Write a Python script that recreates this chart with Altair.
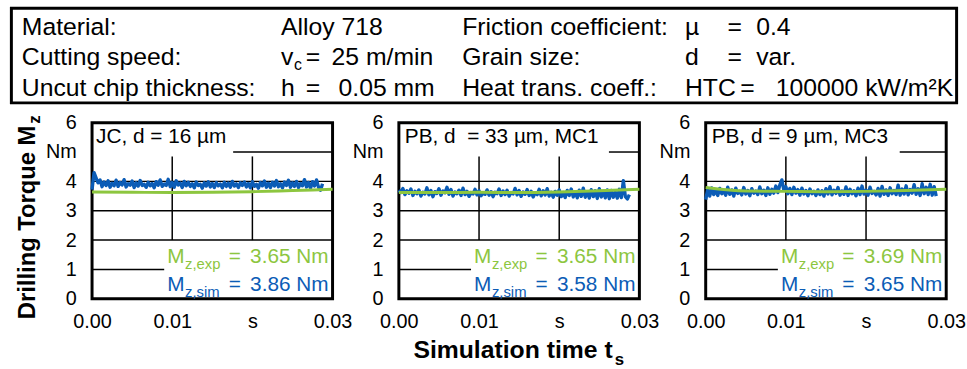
import altair as alt
import pandas as pd

# ---------------- data ----------------
T_STEP = 0.00025  # sampling interval of the simulated torque signal [s]

sim_jc16 = [
    3.72, 4.30, 4.12, 3.95, 4.05, 3.82, 3.98, 3.86, 4.02, 3.80,
    3.94, 3.85, 4.04, 3.83, 3.96, 3.88, 4.06, 3.81, 3.92, 3.87,
    4.01, 3.79, 3.95, 3.84, 4.03, 3.86, 3.90, 3.80, 3.97, 3.85,
    3.93, 3.78, 3.99, 3.87, 4.05, 3.83, 3.91, 3.86, 4.07, 3.82,
    3.96, 3.80, 4.02, 3.88, 3.94, 3.79, 4.00, 3.85, 3.97, 3.83,
    3.92, 3.78, 3.98, 3.86, 3.90, 3.77, 3.95, 3.84, 3.99, 3.81,
    3.93, 3.79, 3.96, 3.85, 3.91, 3.78, 3.97, 3.83, 3.94, 3.80,
    4.00, 3.84, 3.92, 3.79, 3.95, 3.86, 3.98, 3.81, 3.93, 3.78,
    3.99, 3.83, 3.90, 3.77, 3.96, 3.85, 4.01, 3.80, 3.94, 3.79,
    3.97, 3.84, 4.03, 3.82, 3.92, 3.78, 3.98, 3.86, 4.04, 3.80,
    3.95, 3.83, 4.00, 3.79, 3.93, 3.85, 4.06, 3.81, 3.96, 3.77,
    3.99, 3.84, 4.05, 3.80, 3.70, 3.92,
]
sim_pb33 = [
    3.70, 3.62, 3.76, 3.55, 3.68, 3.60, 3.74, 3.52, 3.66, 3.58,
    3.71, 3.50, 3.63, 3.57, 3.78, 3.54, 3.69, 3.48, 3.65, 3.59,
    3.75, 3.53, 3.67, 3.61, 3.80, 3.56, 3.72, 3.50, 3.64, 3.58,
    3.70, 3.52, 3.77, 3.55, 3.66, 3.49, 3.62, 3.57, 3.73, 3.54,
    3.68, 3.51, 3.60, 3.56, 3.71, 3.53, 3.65, 3.48, 3.63, 3.58,
    3.74, 3.52, 3.67, 3.55, 3.70, 3.50, 3.62, 3.57, 3.76, 3.54,
    3.69, 3.49, 3.64, 3.56, 3.72, 3.52, 3.66, 3.47, 3.61, 3.55,
    3.73, 3.51, 3.68, 3.54, 3.75, 3.50, 3.63, 3.46, 3.66, 3.53,
    3.71, 3.48, 3.62, 3.45, 3.69, 3.52, 3.74, 3.47, 3.64, 3.44,
    3.70, 3.49, 3.77, 3.46, 3.65, 3.43, 3.72, 3.48, 3.68, 3.42,
    3.75, 3.47, 3.66, 3.44, 3.71, 3.41, 3.69, 3.46, 3.64, 3.43,
    3.73, 3.45, 4.02, 3.48, 3.40, 3.55,
]
sim_pb9 = [
    3.38, 3.72, 3.50, 3.78, 3.55, 3.70, 3.52, 3.76, 3.58, 3.68,
    3.53, 3.80, 3.56, 3.71, 3.50, 3.77, 3.59, 3.66, 3.54, 3.79,
    3.57, 3.69, 3.51, 3.75, 3.60, 3.67, 3.55, 3.81, 3.58, 3.70,
    3.52, 3.78, 3.56, 3.73, 3.60, 3.84, 3.62, 3.88, 4.05, 3.70,
    3.82, 3.58, 3.76, 3.55, 3.80, 3.60, 3.72, 3.53, 3.77, 3.57,
    3.69, 3.51, 3.74, 3.58, 3.66, 3.52, 3.71, 3.55, 3.68, 3.50,
    3.75, 3.57, 3.82, 3.54, 3.70, 3.59, 3.79, 3.53, 3.67, 3.56,
    3.81, 3.52, 3.73, 3.58, 3.68, 3.51, 3.77, 3.55, 3.84, 3.57,
    3.70, 3.53, 3.80, 3.59, 3.66, 3.54, 3.76, 3.50, 3.83, 3.56,
    3.71, 3.52, 3.78, 3.58, 3.69, 3.55, 3.87, 3.53, 3.74, 3.57,
    3.85, 3.54, 3.72, 3.60, 3.89, 3.56, 3.75, 3.52, 3.92, 3.58,
    3.80, 3.55, 3.90, 3.53, 3.82, 3.50,
]
exp_t = [0.0, 0.005, 0.01, 0.015, 0.02, 0.025, 0.03]
exp_jc16 = [3.64, 3.63, 3.62, 3.63, 3.65, 3.69, 3.73]
exp_pb33 = [3.62, 3.62, 3.63, 3.62, 3.64, 3.68, 3.73]
exp_pb9 = [3.79, 3.67, 3.66, 3.65, 3.66, 3.69, 3.73]

panel_labels = ["JC, d = 16 µm", "PB, d\u00a0\u00a0= 33 µm, MC1", "PB, d = 9 µm, MC3"]
exp_means = ["3.65 Nm", "3.65 Nm", "3.69 Nm"]
sim_means = ["3.86 Nm", "3.58 Nm", "3.65 Nm"]
y5_grid_start = [0.0176, 0.0262, 0.0242]

x_ticks = [0.0, 0.01, 0.02, 0.03]
y_ticks = [0, 1, 2, 3, 4, 5, 6]

header_names = ["Material:", "Cutting speed:", "Uncut chip thickness:"]
header_names2 = ["Friction coefficient:", "Grain size:", "Heat trans. coeff.:"]
header_syms2 = ["µ", "d", "HTC"]
header_vals2 = ["0.4", "var.", "100000 kW/m²K"]

# ---------------- style ----------------
FONT = "Liberation Sans"
BLUE = "#0B5CB6"
GREEN = "#8DC63F"
W, H = 243, 178
OX, OY = 91, 120  # absolute origin of first panel (for header placement)
HF = 25  # header font size
ONE = pd.DataFrame({"k": [0]})


def txt(s, x, y, size=21, color="black", weight="normal", align="left", angle=0):
    kw = dict(text=s, font=FONT, fontSize=size, color=color, fontWeight=weight,
              align=align, baseline="alphabetic")
    if angle:
        kw["angle"] = angle
    return alt.Chart(ONE).mark_text(**kw).encode(x=alt.value(x), y=alt.value(y))


def panel(i, sim, exp):
    xs = alt.Scale(domain=[0, 0.03], nice=False, zero=False)
    ys = alt.Scale(domain=[0, 6], nice=False, zero=False)
    xax = alt.Axis(values=x_ticks, grid=False, domain=False, ticks=False, tickSize=0,
                   labelExpr="datum.value == 0.02 ? 's' : format(datum.value, '.2f')",
                   labelPadding=13, labelFontSize=20, labelFont=FONT, labelColor="black",
                   labelFlush=False, labelOverlap=False, title=None)
    yax = alt.Axis(values=y_ticks, grid=False, domain=False, ticks=False, tickSize=0,
                   labelExpr="datum.value == 5 ? 'Nm' : datum.label",
                   labelPadding=16, labelFontSize=20, labelFont=FONT, labelColor="black",
                   labelOverlap=False, title=None)

    grid = pd.DataFrame({
        "x": [0, 0, 0, y5_grid_start[i], 0, 0.01, 0.02],
        "x2": [0.03, 0.03, 0.03, 0.03, 0.009, 0.01, 0.02],
        "y": [2, 3, 4, 5, 1, 2, 2],
        "y2": [2, 3, 4, 5, 1, 4.85, 4.85],
    })
    sim_df = pd.DataFrame({"t": [k * T_STEP for k in range(len(sim))], "v": sim})
    exp_df = pd.DataFrame({"t": exp_t, "v": exp})

    rules = alt.Chart(grid).mark_rule(color="black", strokeWidth=1.5).encode(
        x=alt.X("x:Q", scale=xs, axis=xax), x2="x2:Q",
        y=alt.Y("y:Q", scale=ys, axis=yax), y2="y2:Q")
    blue = alt.Chart(sim_df).mark_line(color=BLUE, strokeWidth=3.4, strokeJoin="round").encode(
        x=alt.X("t:Q", scale=xs, axis=xax), y=alt.Y("v:Q", scale=ys, axis=yax))
    green = alt.Chart(exp_df).mark_line(color=GREEN, strokeWidth=3, interpolate="monotone").encode(
        x=alt.X("t:Q", scale=xs, axis=xax), y=alt.Y("v:Q", scale=ys, axis=yax))

    layers = [rules, blue, green,
              txt(panel_labels[i], 4 if i == 0 else 6, 21, size=21),
              txt("M", 76, 142, size=21, color=GREEN),
              txt("z,exp", 94, 148, size=15, color=GREEN),
              txt("=", 138, 142, size=21, color=GREEN),
              txt(exp_means[i], W - 4, 142, size=21, color=GREEN, align="right"),
              txt("M", 76, 170, size=21, color=BLUE),
              txt("z,sim", 94, 176, size=15, color=BLUE),
              txt("=", 138, 170, size=21, color=BLUE),
              txt(sim_means[i], W - 4, 170, size=21, color=BLUE, align="right")]

    if i == 0:
        # y-axis title (rotated, with subscript)
        layers += [txt("Drilling Torque M", -58, 3, size=24, weight="bold", align="right", angle=270),
                   txt("z", -53, 1, size=17, weight="bold", align="left", angle=270)]
        # header table
        layers.append(alt.Chart(ONE).mark_rect(fillOpacity=0, stroke="black", strokeWidth=3).encode(
            x=alt.value(9.5 - OX), x2=alt.value(964.5 - OX),
            y=alt.value(4.5 - OY), y2=alt.value(100 - OY)))
        rows = [31, 62, 93]
        for r, name in enumerate(header_names):
            layers.append(txt(name, 20 - OX, rows[r] - OY, size=HF))
        for r, name in enumerate(header_names2):
            layers.append(txt(name, 465 - OX, rows[r] - OY, size=HF))
        for r, s in enumerate(header_syms2):
            layers.append(txt(s, 690 - OX, rows[r] - OY, size=HF))
        layers += [
            txt("Alloy 718", 282 - OX, rows[0] - OY, size=HF),
            txt("v", 282 - OX, rows[1] - OY, size=HF),
            txt("c", 295 - OX, rows[1] + 5 - OY, size=16),
            txt("=", 307 - OX, rows[1] - OY, size=HF),
            txt("25 m/min", 333 - OX, rows[1] - OY, size=HF),
            txt("h", 282 - OX, rows[2] - OY, size=HF),
            txt("=", 307 - OX, rows[2] - OY, size=HF),
            txt("0.05 mm", 340 - OX, rows[2] - OY, size=HF),
            txt("=", 733 - OX, rows[0] - OY, size=HF),
            txt("=", 733 - OX, rows[1] - OY, size=HF),
            txt("=", 746 - OX, rows[2] - OY, size=HF),
            txt(header_vals2[0], 762 - OX, rows[0] - OY, size=HF),
            txt(header_vals2[1], 762 - OX, rows[1] - OY, size=HF),
            txt(header_vals2[2], 961 - OX, rows[2] - OY, size=HF, align="right"),
        ]
    if i == 1:
        layers += [txt("Simulation time t", 216, 238, size=25, weight="bold", align="right"),
                   txt("s", 218, 245, size=17, weight="bold")]

    return alt.layer(*layers).properties(width=W, height=H)


chart = alt.hconcat(
    panel(0, sim_jc16, exp_jc16),
    panel(1, sim_pb33, exp_pb33),
    panel(2, sim_pb9, exp_pb9),
    spacing=67, bounds="flush",
).properties(
    padding={"left": 8, "top": 3, "right": 0, "bottom": 0},
    background="white",
).configure_view(stroke="black", strokeWidth=3)

chart.save("out.html", embed_options={"renderer": "svg", "actions": False})
